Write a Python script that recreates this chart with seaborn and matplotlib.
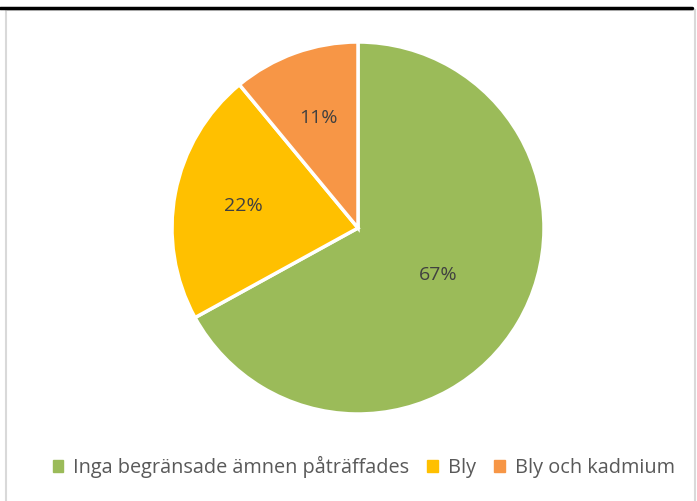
import matplotlib
matplotlib.use("Agg")
import matplotlib.pyplot as plt
import seaborn as sns
import numpy as np
from matplotlib.lines import Line2D
from matplotlib.patches import Rectangle

# data
kategorier = ["Inga begränsade ämnen påträffades", "Bly", "Bly och kadmium"]
andelar = [67, 22, 11]
farger = ["#9BBB59", "#FFC000", "#F79646"]

sns.set_theme(style="white")
plt.rcParams["font.family"] = ["Open Sans", "DejaVu Sans"]

H = 501
fig = plt.figure(figsize=(6.97, 5.01), dpi=100)
ax = fig.add_axes([0, 0, 1, 1])

# ram
fig.add_artist(Line2D([0, 692 / 697], [1 - 8 / H, 1 - 8 / H], color="black", lw=2.5))
fig.add_artist(Rectangle((6 / 697, -0.05), 689 / 697, 1 - 10.5 / H + 0.05,
                         fill=False, edgecolor="#d9d9d9", lw=1.5))

cx, cy, r = 358, H - 228, 186
wedges, texts, autotexts = ax.pie(
    andelar, colors=farger, startangle=90, counterclock=False,
    center=(cx, cy), radius=r, autopct="%d%%", pctdistance=0.63,
    wedgeprops=dict(edgecolor="white", linewidth=2.5),
    textprops=dict(color="#404040", fontsize=14),
    frame=True,
)
ax.set_xlim(0, 697)
ax.set_ylim(0, H)
ax.set_aspect("equal")
ax.axis("off")

# största etiketten närmare mitten
w = wedges[0]
mid = np.deg2rad((w.theta1 + w.theta2) / 2)
autotexts[0].set_position((cx + 0.5 * r * np.cos(mid), cy + 0.5 * r * np.sin(mid)))

handles = [Rectangle((0, 0), 1, 1, color=c) for c in farger]
fig.legend(handles, kategorier, loc="center", bbox_to_anchor=(0.522, 1 - 467 / H),
           ncol=3, frameon=False, fontsize=14.3, labelcolor="#595959",
           handlelength=0.55, handleheight=0.55, handletextpad=0.5, columnspacing=0.9)

fig.savefig("out.png", dpi=100)
